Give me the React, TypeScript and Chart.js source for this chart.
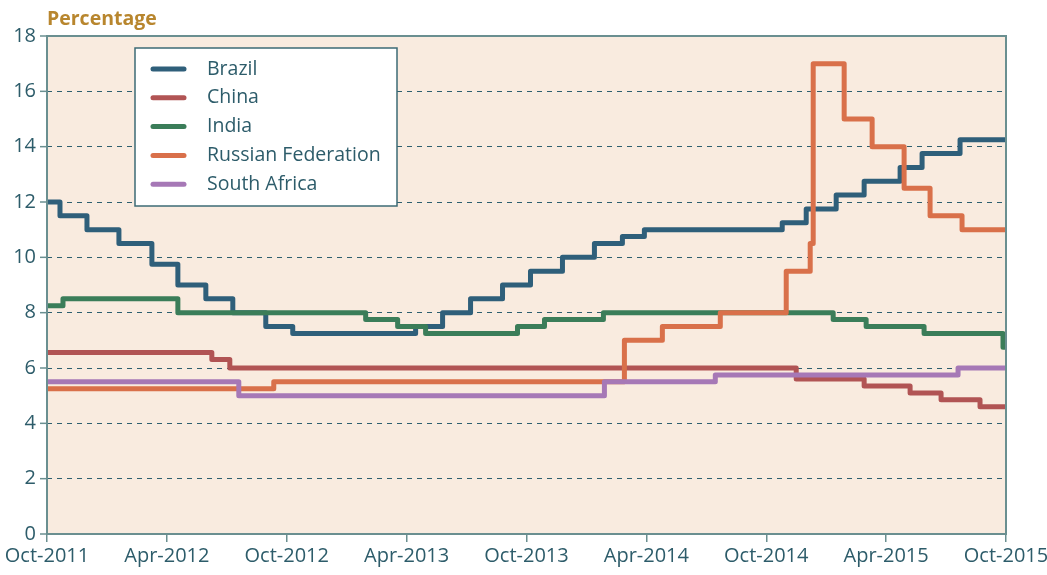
import React, { useEffect, useRef } from 'react';
import { Chart, registerables } from 'chart.js';

Chart.register(...registerables);

// x values are months elapsed since 1 Oct 2011 (a step starts at each value)
const xTickLabels = ['Oct-2011', 'Apr-2012', 'Oct-2012', 'Apr-2013', 'Oct-2013', 'Apr-2014', 'Oct-2014', 'Apr-2015', 'Oct-2015'];

const brazilMonths = [0, 0.65, 2.0, 3.6, 5.25, 6.55, 7.95, 9.3, 10.95, 12.3, 18.45, 19.8, 21.2, 22.8, 24.2, 25.8, 27.4, 28.8, 29.9, 36.8, 38.0, 39.5, 40.9, 42.7, 43.8, 45.7, 48];
const brazilRates = [12, 11.5, 11, 10.5, 9.75, 9, 8.5, 8, 7.5, 7.25, 7.5, 8, 8.5, 9, 9.5, 10, 10.5, 10.75, 11, 11.25, 11.75, 12.25, 12.75, 13.25, 13.75, 14.25, 14.25];

const chinaMonths = [0, 8.25, 9.15, 37.5, 40.9, 43.2, 44.75, 46.7, 48];
const chinaRates = [6.56, 6.31, 6.0, 5.6, 5.35, 5.1, 4.85, 4.6, 4.6];

const indiaMonths = [0, 0.8, 6.55, 15.95, 17.55, 18.95, 23.55, 24.9, 27.85, 39.35, 41.0, 43.9, 47.85, 48];
const indiaRates = [8.25, 8.5, 8, 7.75, 7.5, 7.25, 7.5, 7.75, 8, 7.75, 7.5, 7.25, 6.75, 6.75];

const russiaMonths = [0, 11.35, 28.9, 30.8, 33.7, 37.0, 38.2, 38.35, 39.9, 41.3, 42.9, 44.2, 45.8, 48];
const russiaRates = [5.25, 5.5, 7.0, 7.5, 8.0, 9.5, 10.5, 17, 15, 14, 12.5, 11.5, 11, 11];

const southAfricaMonths = [0, 9.6, 27.9, 33.45, 45.6, 48];
const southAfricaRates = [5.5, 5.0, 5.5, 5.75, 6.0, 6.0];

const seriesNames = ['Brazil', 'China', 'India', 'Russian Federation', 'South Africa'];
const seriesColors = ['#2f5f7a', '#b15454', '#3b7d59', '#d9704a', '#a678b6'];

const AXIS = '#6a8f90';
const TEXT = '#2d5c6a';
const GRID = '#2f5f6e';
const FONT = "'Open Sans', 'Noto Sans', sans-serif";

function pts(xs: number[], ys: number[]) {
  return xs.map((x, i) => ({ x, y: ys[i] }));
}

const framePlugin = {
  id: 'frame',
  beforeDraw(chart: any) {
    const { ctx, chartArea: a } = chart;
    ctx.save();
    ctx.fillStyle = '#f9ebdf';
    ctx.fillRect(a.left, a.top, a.right - a.left, a.bottom - a.top);
    ctx.restore();
  },
  afterDatasetsDraw(chart: any) {
    const { ctx, chartArea: a } = chart;
    const y = chart.scales.y;
    ctx.save();
    ctx.strokeStyle = AXIS;
    ctx.lineWidth = 2;
    ctx.beginPath();
    ctx.moveTo(a.left, a.bottom);
    ctx.lineTo(a.left, a.top);
    ctx.lineTo(a.right, a.top);
    ctx.lineTo(a.right, a.bottom);
    ctx.lineTo(a.left, a.bottom);
    ctx.stroke();
    ctx.lineWidth = 1.5;
    y.ticks.forEach((t: any) => {
      const py = y.getPixelForValue(t.value);
      ctx.beginPath();
      ctx.moveTo(a.left - 7, py);
      ctx.lineTo(a.left, py);
      ctx.stroke();
    });
    ctx.restore();
  },
  afterDraw(chart: any) {
    const { ctx, chartArea: a } = chart;
    ctx.save();
    // title
    ctx.fillStyle = '#b8862e';
    ctx.font = `bold 19.5px ${FONT}`;
    ctx.textBaseline = 'middle';
    ctx.textAlign = 'left';
    ctx.fillText('Percentage', a.left, 19);
    // legend
    const bx = 135, by = 48, bw = 262, bh = 158;
    ctx.fillStyle = '#ffffff';
    ctx.fillRect(bx, by, bw, bh);
    ctx.strokeStyle = '#3d6b75';
    ctx.lineWidth = 1.5;
    ctx.strokeRect(bx, by, bw, bh);
    ctx.font = `19.5px ${FONT}`;
    chart.data.datasets.forEach((ds: any, i: number) => {
      const cy = 69 + i * 28.8;
      ctx.strokeStyle = ds.borderColor;
      ctx.lineWidth = 5;
      ctx.lineCap = 'round';
      ctx.beginPath();
      ctx.moveTo(153, cy);
      ctx.lineTo(184, cy);
      ctx.stroke();
      ctx.fillStyle = TEXT;
      ctx.fillText(ds.label, 207, cy);
    });
    ctx.restore();
  },
};

export default function App() {
  const ref = useRef<HTMLCanvasElement>(null);
  useEffect(() => {
    if (!ref.current) return;
    const allX = [brazilMonths, chinaMonths, indiaMonths, russiaMonths, southAfricaMonths];
    const allY = [brazilRates, chinaRates, indiaRates, russiaRates, southAfricaRates];
    const chart = new Chart(ref.current, {
      type: 'line',
      data: {
        datasets: seriesNames.map((name, i) => ({
          label: name,
          data: pts(allX[i], allY[i]),
          borderColor: seriesColors[i],
          backgroundColor: seriesColors[i],
          borderWidth: 5,
          pointRadius: 0,
          stepped: 'before' as const,
          borderJoinStyle: 'round' as const,
          borderCapStyle: 'butt' as const,
          fill: false,
          order: 4 - i,
        })),
      },
      options: {
        animation: false,
        responsive: true,
        maintainAspectRatio: false,
        layout: { padding: { top: 36, right: 41, left: 0, bottom: 0 } },
        plugins: { legend: { display: false }, tooltip: { enabled: false }, title: { display: false } },
        scales: {
          x: {
            type: 'linear',
            min: 0,
            max: 48,
            afterFit: (s: any) => {
              s.height = 41;
              s.paddingLeft = 0;
              s.paddingRight = 0;
            },
            afterBuildTicks: (s: any) => {
              s.ticks = xTickLabels.map((_, i) => ({ value: i * 6 }));
            },
            ticks: {
              autoSkip: false,
              maxRotation: 0,
              padding: 2,
              color: TEXT,
              font: { family: FONT, size: 20 },
              callback: (v: any) => xTickLabels[Math.round(Number(v) / 6)] ?? '',
            },
            grid: { display: true, drawOnChartArea: false, drawTicks: true, tickLength: 8, color: AXIS, lineWidth: 1.5 },
            border: { display: false },
          },
          y: {
            min: 0,
            max: 18,
            afterFit: (s: any) => {
              s.width = 47;
              s.paddingTop = 0;
              s.paddingBottom = 0;
            },
            ticks: {
              stepSize: 2,
              padding: 11,
              color: TEXT,
              font: { family: FONT, size: 20 },
            },
            grid: { display: true, drawTicks: false, color: GRID, lineWidth: 1 },
            border: { display: false, dash: [5, 5] },
          },
        },
      },
      plugins: [framePlugin],
    });
    return () => chart.destroy();
  }, []);
  return (
    <div style={{ position: 'absolute', left: 0, top: 0, width: 1047, height: 575 }}>
      <canvas ref={ref} />
    </div>
  );
}
